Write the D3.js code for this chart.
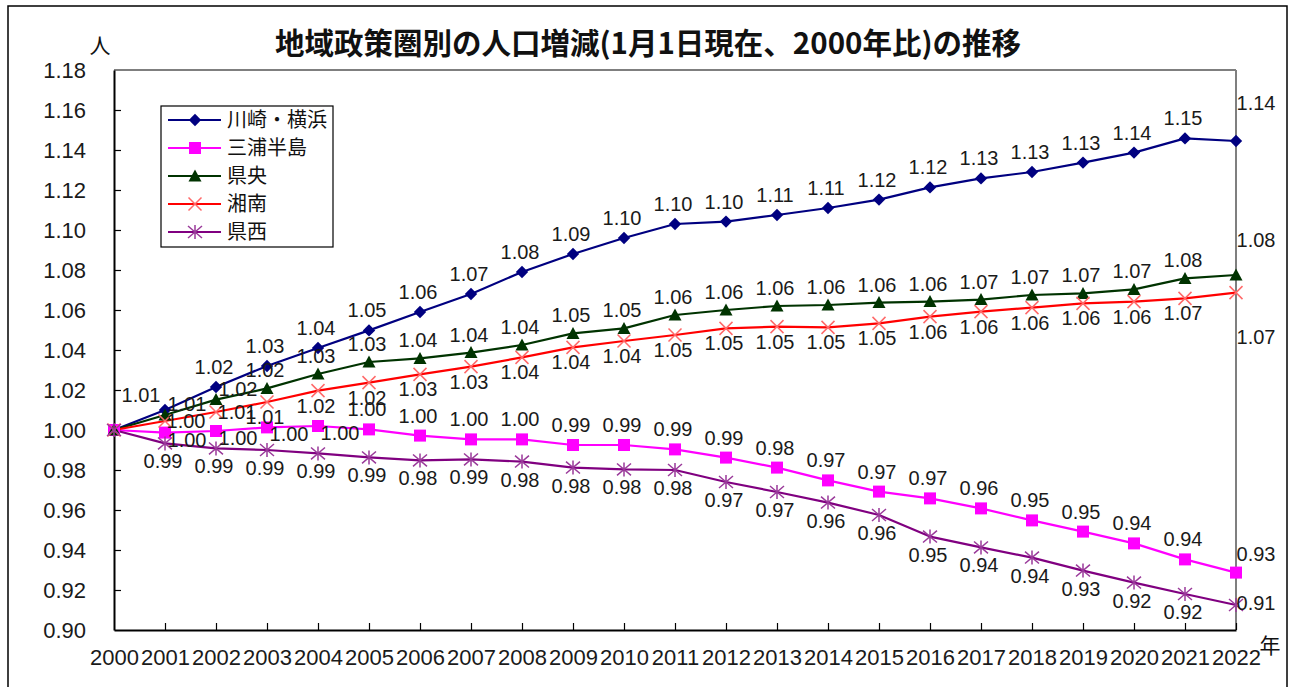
<!DOCTYPE html>
<html><head><meta charset="utf-8">
<script src="https://cdn.jsdelivr.net/npm/d3@7"></script>
<style>body{margin:0;background:#fff}svg{display:block}</style>
</head><body><svg id="c" width="1292" height="687"></svg>
<script>
const years = [2000,2001,2002,2003,2004,2005,2006,2007,2008,2009,2010,2011,2012,2013,2014,2015,2016,2017,2018,2019,2020,2021,2022];
const seriesNames = ["川崎・横浜","三浦半島","県央","湘南","県西"];
const kawasakiYokohama = [1.000,1.010,1.0215,1.032,1.041,1.0498,1.059,1.068,1.079,1.088,1.096,1.103,1.1042,1.1075,1.111,1.1152,1.1213,1.1258,1.129,1.1337,1.1387,1.1458,1.1445];
const miuraHanto = [1.000,0.9987,0.9995,1.0013,1.002,1.0003,0.9972,0.9953,0.9953,0.9925,0.9925,0.9903,0.9862,0.9812,0.9748,0.9692,0.9658,0.9608,0.9548,0.9492,0.9433,0.9353,0.9287];
const kenou = [1.000,1.0075,1.0152,1.0208,1.028,1.034,1.0358,1.0387,1.0425,1.0483,1.0508,1.0575,1.060,1.062,1.0625,1.0637,1.0642,1.0652,1.0675,1.0683,1.0703,1.0758,1.0775];
const shonan = [1.000,1.0045,1.009,1.014,1.0197,1.0237,1.0278,1.0317,1.0363,1.0413,1.0445,1.0475,1.0508,1.0517,1.0513,1.0533,1.0567,1.0592,1.0612,1.0633,1.0642,1.0658,1.0687];
const kensei = [1.000,0.9933,0.9908,0.990,0.9883,0.9863,0.9848,0.9853,0.9842,0.9812,0.9803,0.980,0.974,0.969,0.9637,0.9575,0.9467,0.9413,0.9362,0.9297,0.9237,0.918,0.9125];
const yTicks = [0.90,0.92,0.94,0.96,0.98,1.00,1.02,1.04,1.06,1.08,1.10,1.12,1.14,1.16,1.18];
const titleText = "地域政策圏別の人口増減(1月1日現在、2000年比)の推移";
const yUnit = "人";
const xUnit = "年";

const seriesValues = [kawasakiYokohama, miuraHanto, kenou, shonan, kensei];

// style + label placement rules per series
const styles = [
  {line:"#000080", fill:"#000080", stroke:"none", marker:"diamond", dy:-20, lastDy:-38, early:{n:1, dx:-24, dy:-15}},
  {line:"#ff00ff", fill:"#ff00ff", stroke:"none", marker:"square", dy:-20, lastDy:-19, early:{n:4, dx:22, dy:7}},
  {line:"#003300", fill:"#003300", stroke:"none", marker:"triangle", dy:-18, lastDy:-35, early:{n:2, dx:22, dy:-11}},
  {line:"#ff0000", fill:"none", stroke:"#ff6a6a", marker:"times", dy:15, lastDy:44, early:{n:2, dx:21, dy:0}},
  {line:"#800080", fill:"none", stroke:"#9a3a9a", marker:"asterisk", dy:18, lastDy:-2, early:{n:0, dx:0, dy:0}}
];

const markerTypes = {
  diamond:{draw(c){const r=6.2;c.moveTo(0,-r);c.lineTo(r,0);c.lineTo(0,r);c.lineTo(-r,0);c.closePath();}},
  square:{draw(c){const r=6;c.rect(-r,-r,2*r,2*r);}},
  triangle:{draw(c){c.moveTo(0,-6.5);c.lineTo(6.5,5.5);c.lineTo(-6.5,5.5);c.closePath();}},
  times:{draw(c){const r=6.5;c.moveTo(-r,-r);c.lineTo(r,r);c.moveTo(r,-r);c.lineTo(-r,r);}},
  asterisk:{draw(c){const r=7;c.moveTo(-r,-r*0.85);c.lineTo(r,r*0.85);c.moveTo(r,-r*0.85);c.lineTo(-r,r*0.85);c.moveTo(0,-r);c.lineTo(0,r);}}
};

const svg = d3.select("#c");
const numFont = "'Liberation Sans', Arial, sans-serif";
const jpFont = "'Noto Sans CJK JP', sans-serif";

svg.append("rect").attr("x",8).attr("y",6).attr("width",1279).attr("height",690)
  .attr("fill","#fff").attr("stroke","#000").attr("stroke-width",1.5);

const x = d3.scaleLinear().domain([2000,2022]).range([114,1236]);
const y = d3.scaleLinear().domain([0.90,1.18]).range([630,70]);

svg.append("line").attr("x1",114).attr("x2",1236).attr("y1",70).attr("y2",70).attr("stroke","#7f7f7f").attr("stroke-width",2);
svg.append("line").attr("x1",1236).attr("x2",1236).attr("y1",70).attr("y2",630).attr("stroke","#7f7f7f").attr("stroke-width",2);

const yAxis = svg.append("g").attr("transform","translate(114,0)")
  .call(d3.axisLeft(y).tickValues(yTicks).tickFormat(d3.format(".2f")).tickSize(-7).tickSizeOuter(0).tickPadding(28));
const xAxis = svg.append("g").attr("transform","translate(0,630)")
  .call(d3.axisBottom(x).tickValues(years).tickFormat(d=>String(d)).tickSize(-7).tickSizeOuter(0).tickPadding(19));
[yAxis,xAxis].forEach(g=>{
  g.select(".domain").attr("stroke","#000").attr("stroke-width",2);
  g.selectAll(".tick line").attr("stroke","#000").attr("stroke-width",1.2);
  g.selectAll(".tick text").attr("font-family",numFont).attr("font-size",22).attr("fill","#1a1a1a");
});
xAxis.selectAll(".tick").filter(d=>d===2000).select("line").remove();
yAxis.selectAll(".tick").filter(d=>Math.abs(d-0.90)<1e-9||Math.abs(d-1.18)<1e-9).select("line").remove();

const lineGen = d3.line().x((d,i)=>x(years[i])).y(d=>y(d));
seriesValues.forEach((vals,si)=>{
  const st = styles[si];
  svg.append("path").datum(vals).attr("d",lineGen).attr("fill","none")
    .attr("stroke",st.line).attr("stroke-width",2.2).attr("stroke-linejoin","round");
});
seriesValues.forEach((vals,si)=>{
  const st = styles[si];
  const sym = d3.symbol().type(markerTypes[st.marker]);
  svg.append("g").selectAll("path").data(vals).join("path")
    .attr("transform",(d,i)=>`translate(${x(years[i])},${y(d)})`)
    .attr("d",sym).attr("fill",st.fill).attr("stroke",st.stroke).attr("stroke-width",1.5);
});

const fmt = d3.format(".2f");
function labelOffset(st, idx, n){
  if(idx===n-1) return [20, st.lastDy];
  if(idx<=st.early.n) return [st.early.dx, st.early.dy];
  return [-2, st.dy];
}
seriesValues.forEach((vals,si)=>{
  const st = styles[si];
  const pts = vals.map((v,i)=>({v,i})).slice(1);
  svg.append("g").selectAll("text").data(pts).join("text")
    .attr("x",d=>x(years[d.i]) + labelOffset(st,d.i,vals.length)[0])
    .attr("y",d=>y(d.v) + labelOffset(st,d.i,vals.length)[1] + 7)
    .attr("text-anchor","middle").attr("font-family",numFont).attr("font-size",20).attr("fill","#1a1a1a")
    .text(d=>fmt(d.v));
});

svg.append("text").attr("x",648).attr("y",54).attr("text-anchor","middle")
  .attr("font-family",jpFont).attr("font-weight","bold").attr("font-size",29.5).attr("fill","#111").text(titleText);
svg.append("text").attr("x",100).attr("y",53).attr("text-anchor","middle")
  .attr("font-family",jpFont).attr("font-size",21).attr("fill","#111").text(yUnit);
svg.append("text").attr("x",1270).attr("y",653).attr("text-anchor","middle")
  .attr("font-family",jpFont).attr("font-size",21).attr("fill","#111").text(xUnit);

const lg = svg.append("g");
lg.append("rect").attr("x",161).attr("y",106).attr("width",172).attr("height",141)
  .attr("fill","#fff").attr("stroke","#000").attr("stroke-width",1.2);
seriesNames.forEach((name,si)=>{
  const st = styles[si];
  const ly = 120 + si*28;
  lg.append("line").attr("x1",168).attr("x2",221).attr("y1",ly).attr("y2",ly).attr("stroke",st.line).attr("stroke-width",2.2);
  lg.append("path").attr("transform",`translate(195,${ly})`).attr("d",d3.symbol().type(markerTypes[st.marker])())
    .attr("fill",st.fill).attr("stroke",st.stroke).attr("stroke-width",1.5);
  lg.append("text").attr("x",227).attr("y",ly+7).attr("font-family",jpFont).attr("font-size",20).attr("fill","#111").text(name);
});
</script>
</body></html>
